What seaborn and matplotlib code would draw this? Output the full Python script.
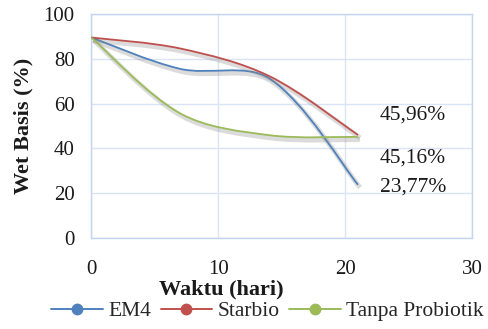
import numpy as np
import pandas as pd
import seaborn as sns
import matplotlib
matplotlib.use("Agg")
import matplotlib.pyplot as plt
from matplotlib.path import Path
from matplotlib.patches import PathPatch
from matplotlib.lines import Line2D
import matplotlib.patheffects as pe

# data
days = [0, 7, 14, 21]
em4 = [89.5, 75.5, 71.3, 23.77]
starbio = [89.5, 84.6, 72.3, 45.96]
tanpa = [89.5, 55.6, 45.9, 45.16]
series_names = ["EM4", "Starbio", "Tanpa Probiotik"]
colors = ["#4F81BD", "#C0504D", "#9BBB59"]
end_labels = ["45,96%", "45,16%", "23,77%"]
label_y = [55.1, 35.7, 22.6]

# px per unit on screen (x per day, y per %) to measure chord lengths
SX, SY = 12.7, 2.235


def smooth_path(xs, ys):
    # smoothed line like excel: tangents from neighbours, arms scaled by chord length
    pts = np.column_stack([xs, ys]).astype(float)
    scr = pts * [SX, SY]
    n = len(pts)
    d = [np.hypot(*(scr[i + 1] - scr[i])) for i in range(n - 1)]
    c_out, c_in = {}, {}
    for i in range(n):
        if i == 0:
            c_out[i] = pts[0] + (pts[1] - pts[0]) / 6.0
        elif i == n - 1:
            c_in[i] = pts[i] - (pts[i] - pts[i - 1]) / 6.0
        else:
            t = pts[i + 1] - pts[i - 1]
            dp, dn = d[i - 1], d[i]
            c_in[i] = pts[i] - t * dp / (dp + dn) / 3.0
            c_out[i] = pts[i] + t * dn / (dp + dn) / 3.0
    verts = [pts[0]]
    codes = [Path.MOVETO]
    for i in range(n - 1):
        verts += [c_out[i], c_in[i + 1], pts[i + 1]]
        codes += [Path.CURVE4] * 3
    return Path(verts, codes)


sns.set_theme(style="whitegrid")
plt.rcParams['font.family'] = ['Liberation Serif', 'DejaVu Serif']

fig = plt.figure(figsize=(4.89, 3.29), dpi=100)
ax = fig.add_axes([0.1867, 0.2766, 0.7791, 0.6809])
ax.set_facecolor("white")

df = pd.DataFrame({"day": days * 3,
                   "value": em4 + starbio + tanpa,
                   "seri": sum([[s] * len(days) for s in series_names], [])})

for name, col in zip(series_names, colors):
    sub = df[df["seri"] == name]
    patch = PathPatch(smooth_path(sub["day"].values, sub["value"].values),
                      facecolor="none", edgecolor=col, lw=1.3, zorder=3)
    patch.set_path_effects([pe.SimpleLineShadow(offset=(1.5, -2), shadow_color="#888888", alpha=0.3, linewidth=3.5),
                            pe.Normal()])
    ax.add_patch(patch)

ax.set_xlim(0, 30)
ax.set_ylim(0, 100)
ax.set_xticks([0, 10, 20, 30])
ax.set_yticks([0, 20, 40, 60, 80, 100])
ax.grid(True, color="#D9E4F4", lw=1.0)
for sp in ax.spines.values():
    sp.set_visible(True)
    sp.set_color("#C3D5EE")
    sp.set_linewidth(1.0)
ax.tick_params(axis="both", labelsize=15, colors="#1a1a1a", length=0)
ax.tick_params(axis="x", pad=16)
ax.tick_params(axis="y", pad=12)

ax.set_xlabel("Waktu (hari)", fontsize=16, fontweight="bold", color="#1a1a1a")
ax.set_ylabel("Wet Basis (%)", fontsize=16, fontweight="bold", color="#1a1a1a")
ax.xaxis.label.set_va("center")
ax.xaxis.set_label_coords(0.3425, -0.228)
ax.yaxis.label.set_va("center")
ax.yaxis.set_label_coords(-0.1785, 0.5)

for txt, yy in zip(end_labels, label_y):
    ax.text(22.7, yy, txt, fontsize=15.5, va="center", ha="left", color="#1a1a1a")

handles = [Line2D([0], [0], color=c, lw=1.4, marker="o", markersize=7.5,
                  markerfacecolor=c, markeredgecolor=c) for c in colors]
fig.legend(handles, series_names, loc="center", bbox_to_anchor=(0.547, 0.054), ncol=3,
           frameon=False, fontsize=15.5, handlelength=2.4, handletextpad=0.25,
           columnspacing=0.45, borderaxespad=0, borderpad=0)

fig.savefig("out.png", dpi=100)
